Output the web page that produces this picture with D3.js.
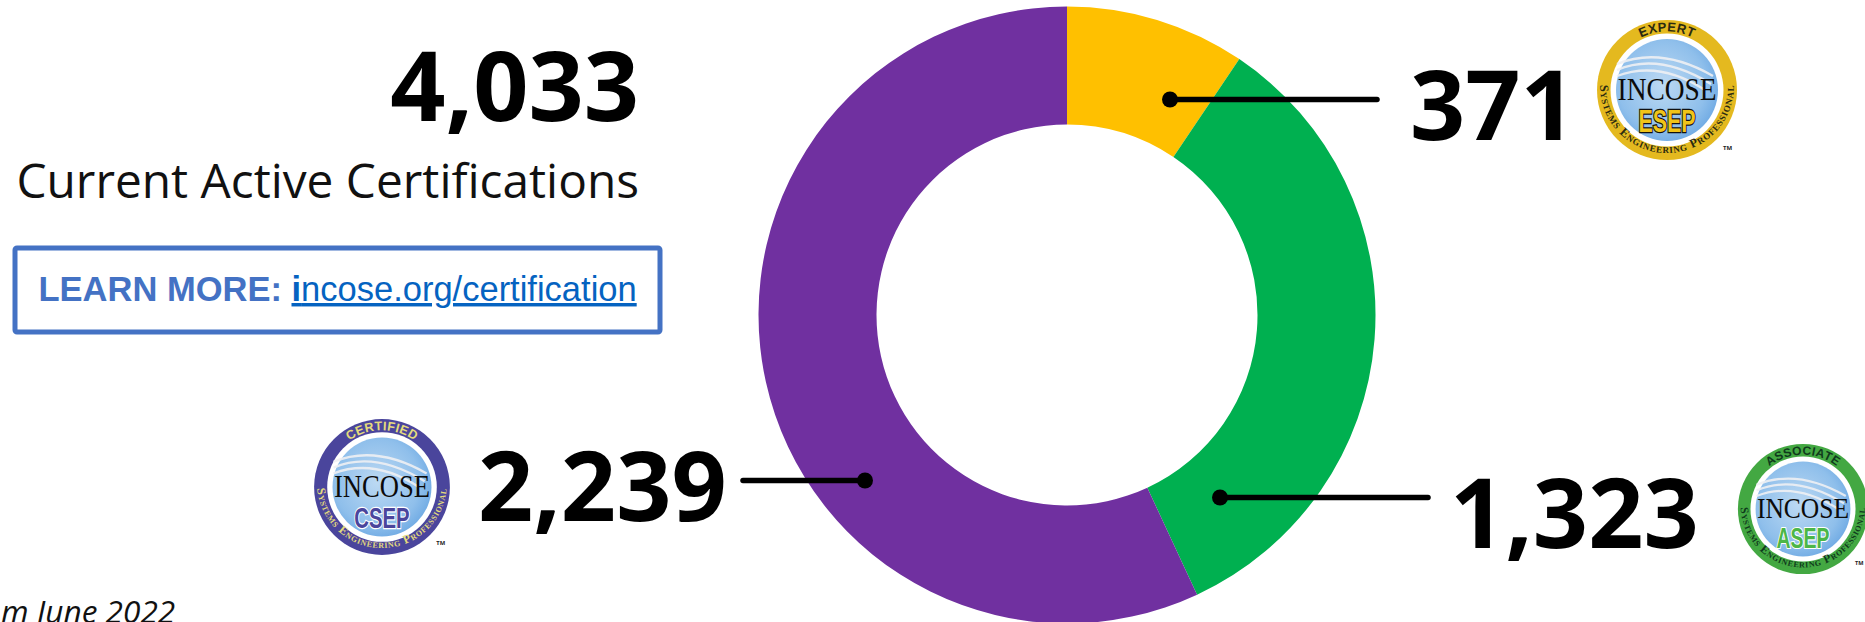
<!DOCTYPE html>
<html>
<head>
<meta charset="utf-8">
<script src="https://cdn.jsdelivr.net/npm/d3@7"></script>
<style>
html,body{margin:0;padding:0;background:#fff;overflow:hidden}
svg{display:block}
text{font-family:"Open Sans",sans-serif}
</style>
</head>
<body>
<svg id="chart" width="1865" height="622"></svg>
<script>
const categories = ["ESEP", "ASEP", "CSEP"];
const values = [371, 1323, 2239];
const valueLabels = ["371", "1,323", "2,239"];
const ringTitles = ["EXPERT", "ASSOCIATE", "CERTIFIED"];
const totalLabel = "4,033";
const subtitle = "Current Active Certifications";
const learnLabel = "LEARN MORE: ";
const linkBold = "i";
const linkRest = "ncose.org/certification";
const footnote = "m June 2022";

const sliceColors = ["#FFC000", "#00B050", "#7030A0"];
const svg = d3.select("#chart");
const cx = 1067, cy = 315, R = 308.5, r = 190.5;
const bigFont = 96.7;

// Donut
const pie = d3.pie().sort(null).value(d => d);
const arc = d3.arc().innerRadius(r).outerRadius(R);
svg.append("g").attr("transform", `translate(${cx},${cy})`)
  .selectAll("path").data(pie(values)).join("path")
  .attr("d", arc).attr("fill", (d, i) => sliceColors[i]);

// Left text
svg.append("text").attr("x", 639).attr("y", 121).attr("text-anchor", "end")
  .attr("font-size", bigFont).attr("font-weight", 700).attr("fill", "#000").text(totalLabel);
svg.append("text").attr("x", 639).attr("y", 198).attr("text-anchor", "end")
  .attr("font-size", 47.8).attr("fill", "#111").text(subtitle);

// Box
svg.append("rect").attr("x", 15).attr("y", 248).attr("width", 645).attr("height", 84)
  .attr("rx", 2).attr("fill", "#fff").attr("stroke", "#4472C4").attr("stroke-width", 5);
const t = svg.append("text").attr("x", 38.5).attr("y", 301)
  .style("font-family", "'Liberation Sans',Arial,sans-serif").attr("font-size", 34.5);
t.append("tspan").attr("font-weight", 700).attr("fill", "#4472C4").attr("xml:space","preserve").text(learnLabel);
t.append("tspan").attr("font-weight", 700).attr("fill", "#0563C1").attr("text-decoration", "underline").text(linkBold);
t.append("tspan").attr("fill", "#0563C1").attr("text-decoration", "underline").text(linkRest);

// Footnote
svg.append("text").attr("x", 1).attr("y", 623).attr("font-size", 31.6)
  .attr("font-style", "italic").attr("fill", "#111").text(footnote);

// Callouts
const callouts = [
  {x1: 1170, x2: 1377, y: 99.5, dot: 1170, lx: 1410, ly: 140},
  {x1: 1220, x2: 1428, y: 497.5, dot: 1220, lx: 1450, ly: 548},
  {x1: 743, x2: 865, y: 480.5, dot: 865, lx: 478, ly: 521}
];
callouts.forEach((c, i) => {
  svg.append("line").attr("x1", c.x1).attr("x2", c.x2).attr("y1", c.y).attr("y2", c.y)
    .attr("stroke", "#000").attr("stroke-width", 5.5).attr("stroke-linecap", "round");
  svg.append("circle").attr("cx", c.dot).attr("cy", c.y).attr("r", 8).attr("fill", "#000");
  svg.append("text").attr("x", c.lx).attr("y", c.ly).attr("font-size", bigFont)
    .attr("font-weight", 700).attr("fill", "#000").text(valueLabels[i]);
});

// Badges
const defs = svg.append("defs");
const grad = defs.append("radialGradient").attr("id", "globe").attr("cx", "45%").attr("cy", "45%").attr("r", "62%");
grad.append("stop").attr("offset", "0%").attr("stop-color", "#bcd9f3");
grad.append("stop").attr("offset", "70%").attr("stop-color", "#8fbfeb");
grad.append("stop").attr("offset", "100%").attr("stop-color", "#69a6e2");

const badges = [
  {x: 1667, y: 90, k: 1, ring: "#E4B91F", ringText: "#2b2a10", word: "#F0C419", wordStroke: "#111", tm: "TM"},
  {x: 1803, y: 509, k: 0.93, ring: "#43A842", ringText: "#0f3a1c", word: "#4CB648", wordStroke: "#fff", tm: "TM"},
  {x: 382, y: 487, k: 0.97, ring: "#4A459C", ringText: "#E4DB7C", word: "#4A459C", wordStroke: "#fff", tm: "TM"}
];
const bottomRing = "Systems Engineering Professional";
badges.forEach((b, i) => {
  const g = svg.append("g").attr("transform", `translate(${b.x},${b.y}) scale(${b.k})`);
  g.append("circle").attr("r", 70).attr("fill", b.ring);
  g.append("circle").attr("r", 56.5).attr("fill", "#fff");
  g.append("circle").attr("r", 51).attr("fill", "url(#globe)");
  [[-50,-26,-6,-44,46,-14],[-50,-20,-8,-38,44,-6],[-50,-14,-8,-30,38,0]].forEach(p => {
    g.append("path").attr("d", `M${p[0]},${p[1]} Q${p[2]},${p[3]} ${p[4]},${p[5]}`)
      .attr("fill", "none").attr("stroke", "#eef0f3").attr("stroke-width", 2.4).attr("opacity", 0.9);
  });
  g.append("text").attr("y", 10).attr("text-anchor", "middle")
    .style("font-family", "'Liberation Serif',serif").attr("font-size", 32).attr("textLength", 99)
    .attr("lengthAdjust", "spacingAndGlyphs").attr("fill", "#0b0b0b").text("INCOSE");
  g.append("text").attr("y", 42).attr("text-anchor", "middle")
    .style("font-family", "'Liberation Sans',sans-serif").attr("font-weight", 700).attr("font-size", 31)
    .attr("textLength", 57).attr("lengthAdjust", "spacingAndGlyphs")
    .attr("fill", b.word).attr("stroke", b.wordStroke).attr("stroke-width", 2.4).attr("paint-order", "stroke").text(categories[i]);
  defs.append("path").attr("id", `top${i}`).attr("d", "M-58.5,0 A58.5,58.5 0 0 1 58.5,0");
  defs.append("path").attr("id", `bot${i}`).attr("d", "M-67,-4 A67,67 0 1 0 67,-4");
  g.append("text").attr("font-size", 13).style("font-family", "'Liberation Sans',sans-serif").attr("font-weight", 700)
    .attr("fill", b.ringText).attr("letter-spacing", 0.4)
    .append("textPath").attr("href", `#top${i}`).attr("startOffset", "50%").attr("text-anchor", "middle")
    .text(ringTitles[i]);
  g.append("text").attr("font-size", 12.5).style("font-family", "'Liberation Serif',serif").attr("font-weight", 700)
    .style("font-variant", "small-caps").attr("fill", b.ringText).attr("letter-spacing", 0.7)
    .append("textPath").attr("href", `#bot${i}`).attr("startOffset", "50%").attr("text-anchor", "middle")
    .text(bottomRing);
  g.append("text").attr("x", 56).attr("y", 60).attr("font-size", 6).attr("font-weight", 700)
    .attr("fill", "#222").text(b.tm);
});
</script>
</body>
</html>
